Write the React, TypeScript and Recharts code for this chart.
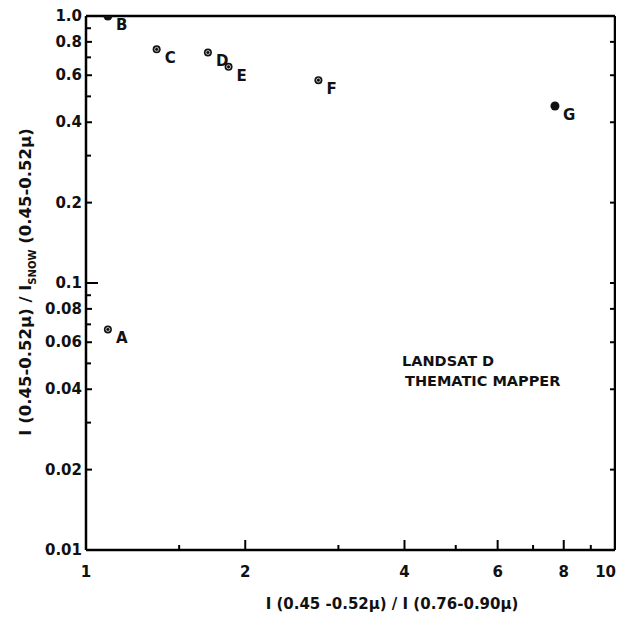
import { ScatterChart, Scatter, XAxis, YAxis, ReferenceLine } from "recharts"

const sites = ["A", "B", "C", "D", "E", "F", "G"]
const ratioX = [1.1, 1.1, 1.36, 1.7, 1.86, 2.75, 7.7]
const ratioY = [0.067, 1.0, 0.75, 0.73, 0.645, 0.575, 0.46]

const xTicks = [1, 1.5, 2, 3, 4, 5, 6, 7, 8, 9, 10]
const xLabeled = [1, 2, 4, 6, 8, 10]
const yTicks = [0.01, 0.02, 0.03, 0.04, 0.05, 0.06, 0.07, 0.08, 0.09, 0.1, 0.2, 0.3, 0.4, 0.5, 0.6, 0.7, 0.8, 0.9, 1]
const yLabeled = [0.01, 0.02, 0.04, 0.06, 0.08, 0.1, 0.2, 0.4, 0.6, 0.8, 1]
const yRightTicks = [0.02, 0.04, 0.06, 0.08, 0.1, 0.2, 0.4, 0.6, 0.8]

const data = sites.map((name, i) => ({ name, x: ratioX[i], y: ratioY[i] }))

const font = "'DejaVu Sans', sans-serif"

const fmtY = (v: number) => (v === 1 ? "1.0" : String(v))

function XTick(props: any) {
  const { x, y, payload } = props
  const v = payload.value
  const major = xLabeled.includes(v)
  // keep the last label inside the frame
  const last = v === 10
  return (
    <g>
      <line x1={x} x2={x} y1={y} y2={y - (major ? 10 : 5)} stroke="#000" strokeWidth={2} />
      {major && (
        <text
          x={last ? x + 1 : x}
          y={y + 27}
          textAnchor={last ? "end" : "middle"}
          fontSize={15}
          fontWeight="bold"
          fontFamily={font}
          fill="#111"
        >
          {v}
        </text>
      )}
    </g>
  )
}

function YTick(props: any) {
  const { x, y, payload } = props
  const v = payload.value
  const major = yLabeled.includes(v)
  const len = v === 1 ? 0 : v === 0.1 ? 12 : major ? 6 : 5
  return (
    <g>
      {len > 0 && <line x1={x} x2={x + len} y1={y} y2={y} stroke="#000" strokeWidth={2} />}
      {major && (
        <text x={x - 4} y={y + 5} textAnchor="end" fontSize={15} fontWeight="bold" fontFamily={font} fill="#111">
          {fmtY(v)}
        </text>
      )}
    </g>
  )
}

function RTick(props: any) {
  const { x, y } = props
  return <line x1={x} x2={x - 5} y1={y} y2={y} stroke="#000" strokeWidth={2} />
}

function Site(props: any) {
  const { cx, cy, payload } = props
  const filled = payload.name === "B" || payload.name === "G"
  return (
    <g>
      <circle cx={cx} cy={cy} r={filled ? 4.5 : 4} fill="#111" />
      {!filled && <circle cx={cx} cy={cy} r={2} fill="none" stroke="#fff" strokeWidth={0.7} />}
      <text x={cx + 8} y={cy + 14} fontSize={15} fontWeight="bold" fontFamily={font} fill="#111">
        {payload.name}
      </text>
    </g>
  )
}

export default function App() {
  return (
    <ScatterChart width={616} height={604} margin={{ top: 8, right: 5, left: 8, bottom: 22 }}>
      <XAxis
        dataKey="x"
        type="number"
        scale="log"
        domain={[1, 10]}
        allowDataOverflow
        ticks={xTicks}
        interval={0}
        tickSize={0}
        tickMargin={0}
        tick={<XTick />}
        height={40}
        axisLine={{ stroke: "#000", strokeWidth: 2.5 }}
      />
      <YAxis
        dataKey="y"
        type="number"
        scale="log"
        domain={[0.01, 1]}
        allowDataOverflow
        ticks={yTicks}
        interval={0}
        tickSize={0}
        tickMargin={0}
        tick={<YTick />}
        width={70}
        axisLine={{ stroke: "#000", strokeWidth: 2.5 }}
      />
      <YAxis
        yAxisId="r"
        orientation="right"
        type="number"
        scale="log"
        domain={[0.01, 1]}
        allowDataOverflow
        ticks={yRightTicks}
        interval={0}
        tickSize={0}
        tickMargin={0}
        tick={<RTick />}
        width={4}
        axisLine={{ stroke: "#000", strokeWidth: 2.5 }}
      />
      <ReferenceLine y={1} stroke="#000" strokeWidth={2.5} ifOverflow="visible" />
      <Scatter data={data} shape={<Site />} isAnimationActive={false} />
      <text x={394} y={358} fontSize={14.5} fontWeight="bold" fontFamily={font} fill="#111">
        LANDSAT D
      </text>
      <text x={397} y={378} fontSize={14.5} fontWeight="bold" fontFamily={font} fill="#111">
        THEMATIC  MAPPER
      </text>
      <text x={384} y={601} textAnchor="middle" fontSize={15} fontWeight="bold" fontFamily={font} fill="#111">
        I (0.45 -0.52μ) / I (0.76-0.90μ)
      </text>
      <text
        x={23}
        y={274}
        transform="rotate(-90 23 274)"
        textAnchor="middle"
        fontSize={16.5}
        fontWeight="bold"
        fontFamily={font}
        fill="#111"
      >
        I (0.45-0.52μ) / I
        <tspan fontSize={10} dy={5}>SNOW</tspan>
        <tspan dy={-5}> (0.45-0.52μ)</tspan>
      </text>
    </ScatterChart>
  )
}
